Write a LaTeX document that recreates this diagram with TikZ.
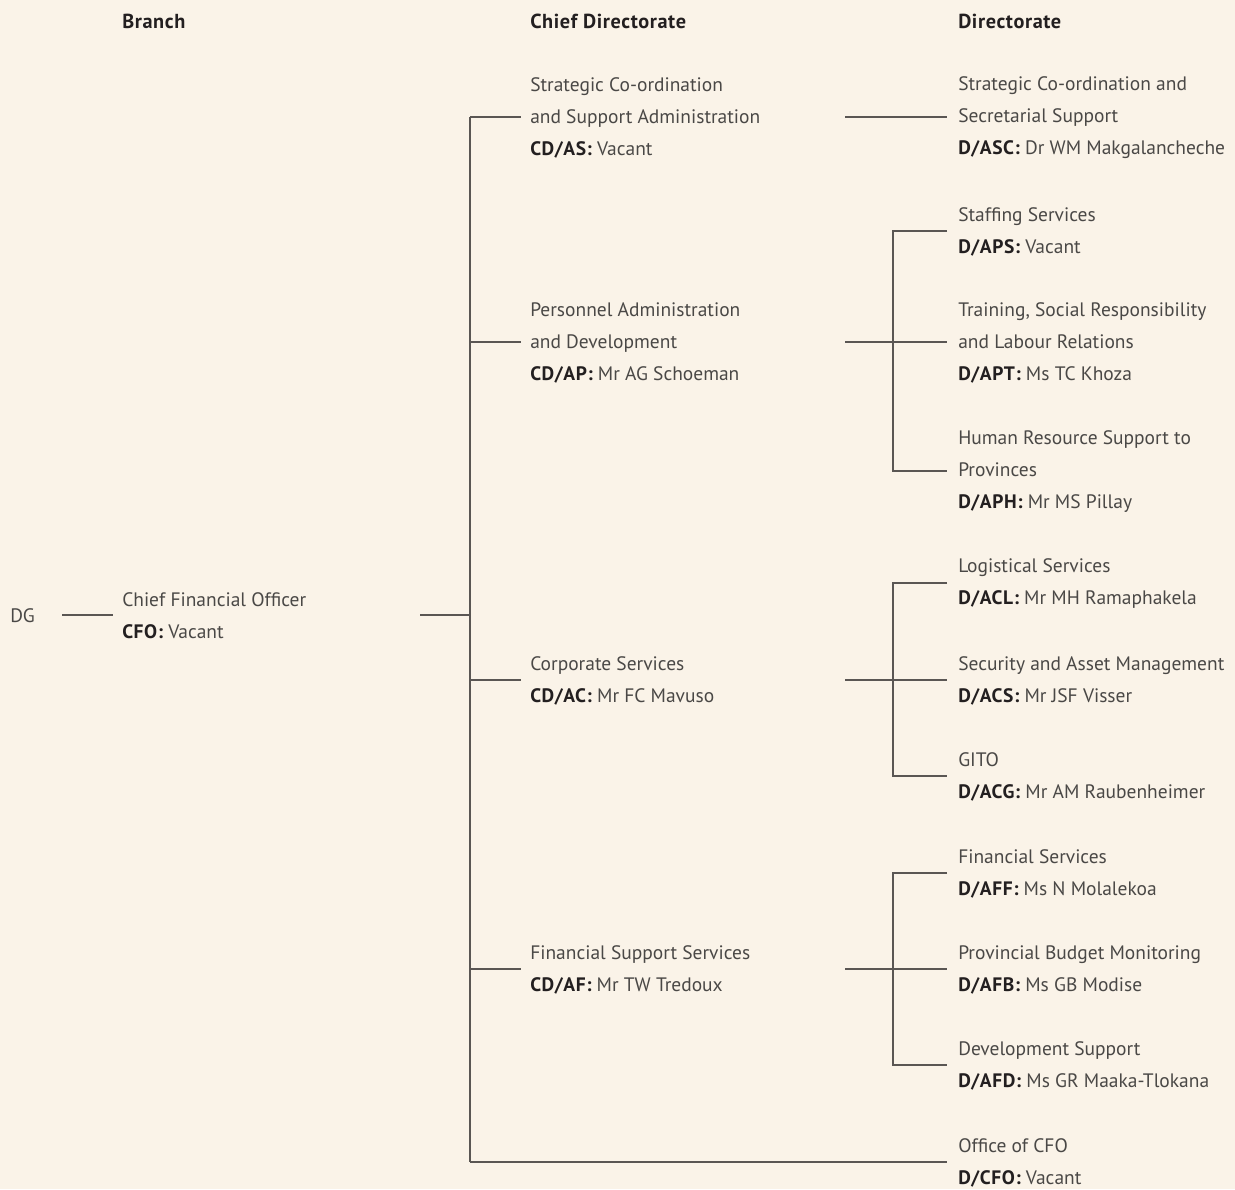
\documentclass[tikz,border=0pt]{standalone}
\usepackage{fontspec}
\setmainfont{PT Sans}
\definecolor{bgc}{HTML}{FAF3E8}
\definecolor{txt}{HTML}{4A4846}
\definecolor{bld}{HTML}{231F20}
\definecolor{ln}{HTML}{5A5653}
\begin{document}
\begin{tikzpicture}[x=0.75pt,y=-0.75pt,
  lbl/.style={inner sep=0pt, anchor=west, align=left, text=txt,
    font=\fontsize{14.6}{24}\selectfont},
  hdr/.style={inner sep=0pt, anchor=west, text=bld, font=\fontsize{15.2}{16}\selectfont\bfseries\addfontfeature{LetterSpace=3}},
  conn/.style={draw=ln, line width=0.8pt}]
\fill[bgc] (0,0) rectangle (1235,1189);
\useasboundingbox (0,0) rectangle (1235,1189);
\newcommand{\bl}[1]{\textcolor{bld}{\bfseries\addfontfeature{LetterSpace=3}#1}}
% headers
\node[hdr] (hb) at (122,21) {Branch};
\node[hdr] (hc) at (530,21) {Chief Directorate};
\node[hdr] (hd) at (958,21) {Directorate};
% level 0/1
\node[lbl] (dg) at (10,616) {DG};
\node[lbl] (cfo) at (122,616) {Chief Financial Officer\\\bl{CFO:} Vacant};
% chief directorates
\node[lbl] (cdas) at (530,118) {Strategic Co-ordination\\and Support Administration\\\bl{CD/AS:} Vacant};
\node[lbl] (cdap) at (530,343) {Personnel Administration\\and Development\\\bl{CD/AP:} Mr AG Schoeman};
\node[lbl] (cdac) at (530,681) {Corporate Services\\\bl{CD/AC:} Mr FC Mavuso};
\node[lbl] (cdaf) at (530,970) {Financial Support Services\\\bl{CD/AF:} Mr TW Tredoux};
% directorates
\node[lbl] (dasc) at (958,118) {Strategic Co-ordination and\\Secretarial Support\\\bl{D/ASC:} Dr WM Makgalancheche};
\node[lbl] (daps) at (958,232) {Staffing Services\\\bl{D/APS:} Vacant};
\node[lbl] (dapt) at (958,343) {Training, Social Responsibility\\and Labour Relations\\\bl{D/APT:} Ms TC Khoza};
\node[lbl] (daph) at (958,472) {Human Resource Support to\\Provinces\\\bl{D/APH:} Mr MS Pillay};
\node[lbl] (dacl) at (958,584) {Logistical Services\\\bl{D/ACL:} Mr MH Ramaphakela};
\node[lbl] (dacs) at (958,681) {Security and Asset Management\\\bl{D/ACS:} Mr JSF Visser};
\node[lbl] (dacg) at (958,777) {GITO\\\bl{D/ACG:} Mr AM Raubenheimer};
\node[lbl] (daff) at (958,874) {Financial Services\\\bl{D/AFF:} Ms N Molalekoa};
\node[lbl] (dafb) at (958,970) {Provincial Budget Monitoring\\\bl{D/AFB:} Ms GB Modise};
\node[lbl] (dafd) at (958,1066) {Development Support\\\bl{D/AFD:} Ms GR Maaka-Tlokana};
\node[lbl] (dcfo) at (958,1163) {Office of CFO\\\bl{D/CFO:} Vacant};
% junction coordinates
\coordinate (dgR) at (62,615);
\coordinate (cfoL) at (113,615);
\coordinate (cfoR) at (420,615);
\coordinate (busM) at (470,615);
\coordinate (busT) at (470,117);
\coordinate (busB) at (470,1162);
\coordinate (busAP) at (470,342);
\coordinate (busAC) at (470,680);
\coordinate (busAF) at (470,969);
\coordinate (asR) at (845,117);
\coordinate (apR) at (845,342);
\coordinate (acR) at (845,680);
\coordinate (afR) at (845,969);
\coordinate (apJ) at (893,342);
\coordinate (acJ) at (893,680);
\coordinate (afJ) at (893,969);
\coordinate (cdasL) at (521,117);
\coordinate (cdapL) at (521,342);
\coordinate (cdacL) at (521,680);
\coordinate (cdafL) at (521,969);
\coordinate (dascL) at (947,117);
\coordinate (dapsL) at (947,231);
\coordinate (daptL) at (947,342);
\coordinate (daphL) at (947,471);
\coordinate (daclL) at (947,583);
\coordinate (dacsL) at (947,680);
\coordinate (dacgL) at (947,776);
\coordinate (daffL) at (947,873);
\coordinate (dafbL) at (947,969);
\coordinate (dafdL) at (947,1065);
\coordinate (dcfoL) at (947,1162);
% connectors
\draw[conn] (dgR) -- (cfoL);
\draw[conn] (cfoR) -- (busM);
\draw[conn] (busT) -- (busB);
\draw[conn] (busT) -- (cdasL);
\draw[conn] (busAP) -- (cdapL);
\draw[conn] (busAC) -- (cdacL);
\draw[conn] (busAF) -- (cdafL);
\draw[conn] (busB) -- (dcfoL);
\draw[conn] (asR) -- (dascL);
\draw[conn] (apR) -- (apJ);
\draw[conn] (dapsL) -| (apJ) |- (daphL);
\draw[conn] (apJ) -- (daptL);
\draw[conn] (acR) -- (acJ);
\draw[conn] (daclL) -| (acJ) |- (dacgL);
\draw[conn] (acJ) -- (dacsL);
\draw[conn] (afR) -- (afJ);
\draw[conn] (daffL) -| (afJ) |- (dafdL);
\draw[conn] (afJ) -- (dafbL);
\end{tikzpicture}
\end{document}
